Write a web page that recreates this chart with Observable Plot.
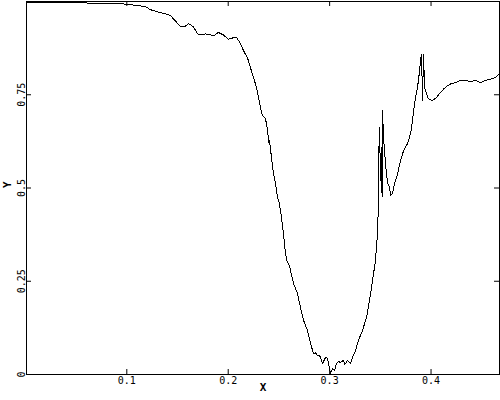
<!DOCTYPE html>
<html>
<head>
<meta charset="utf-8">
<script src="https://cdn.jsdelivr.net/npm/d3@7"></script>
<script src="https://cdn.jsdelivr.net/npm/@observablehq/plot@0.6"></script>
<style>
  html, body { margin: 0; padding: 0; background: #fff; }
</style>
</head>
<body>
<div id="chart"></div>
<script>
const xValues = [
  0.0011, 0.02, 0.0445, 0.06, 0.0741, 0.09, 0.0997, 0.1135, 0.1184, 0.1234,
  0.1332, 0.1382, 0.1431, 0.1480, 0.1530, 0.1579, 0.1609, 0.1658, 0.1697, 0.1727,
  0.1776, 0.1825, 0.1855, 0.1904, 0.1954, 0.2003, 0.2053, 0.2082, 0.2121, 0.2151,
  0.2190, 0.2220, 0.2250, 0.2279, 0.2299, 0.2318, 0.2338, 0.2368, 0.2388, 0.2397,
  0.2402, 0.2407, 0.2427, 0.2447, 0.2466, 0.2486, 0.2499, 0.2516, 0.2545, 0.2565,
  0.2580, 0.2595, 0.2605, 0.2614, 0.2644, 0.2683, 0.2713, 0.2743, 0.2782, 0.2812,
  0.2841, 0.2860, 0.2881, 0.2900, 0.2910, 0.2930, 0.2960, 0.2979, 0.2999, 0.3009,
  0.3028, 0.3048, 0.3068, 0.3090, 0.3107, 0.3137, 0.3150, 0.3157, 0.3176, 0.3206,
  0.3225, 0.3255, 0.3284, 0.3324, 0.3364, 0.3393, 0.3423, 0.3452, 0.3472, 0.3479,
  0.3482, 0.3492, 0.3502, 0.3512, 0.3517, 0.3522, 0.3531, 0.3551, 0.3571, 0.3591,
  0.3600, 0.3620, 0.3640, 0.3670, 0.3699, 0.3729, 0.3768, 0.3798, 0.3817, 0.3837,
  0.3847, 0.3867, 0.3887, 0.3896, 0.3906, 0.3911, 0.3916, 0.3921, 0.3926, 0.3936,
  0.3955, 0.3975, 0.4014, 0.4054, 0.4093, 0.4123, 0.4163, 0.4192, 0.4241, 0.4291,
  0.4340, 0.4389, 0.4438, 0.4487, 0.4537, 0.4586, 0.4636, 0.4675
];
const yValues = [
  0.998, 0.998, 0.997, 0.996, 0.995, 0.994, 0.993, 0.988, 0.986, 0.978,
  0.970, 0.967, 0.962, 0.948, 0.932, 0.934, 0.941, 0.932, 0.913, 0.911,
  0.913, 0.911, 0.908, 0.917, 0.910, 0.899, 0.903, 0.904, 0.887, 0.868,
  0.849, 0.822, 0.796, 0.769, 0.742, 0.715, 0.694, 0.686, 0.654, 0.632,
  0.620, 0.627, 0.581, 0.538, 0.512, 0.474, 0.466, 0.439, 0.378, 0.324,
  0.305, 0.297, 0.290, 0.279, 0.244, 0.217, 0.179, 0.145, 0.118, 0.083,
  0.056, 0.058, 0.051, 0.050, 0.046, 0.029, 0.046, 0.043, 0.016, 0.003,
  0.016, 0.011, 0.029, 0.035, 0.032, 0.038, 0.027, 0.029, 0.038, 0.029,
  0.046, 0.064, 0.091, 0.118, 0.153, 0.198, 0.252, 0.305, 0.378, 0.439,
  0.565, 0.662, 0.520, 0.609, 0.475, 0.707, 0.636, 0.565, 0.512, 0.502,
  0.480, 0.485, 0.512, 0.538, 0.573, 0.600, 0.619, 0.646, 0.680, 0.726,
  0.743, 0.770, 0.814, 0.841, 0.859, 0.800, 0.734, 0.800, 0.859, 0.770,
  0.752, 0.739, 0.734, 0.743, 0.756, 0.765, 0.774, 0.779, 0.783, 0.788,
  0.788, 0.786, 0.788, 0.783, 0.788, 0.792, 0.796, 0.806
];
const xTicks = [0.1, 0.2, 0.3, 0.4];
const xTickLabels = ["0.1", "0.2", "0.3", "0.4"];
const yTicks = [0, 0.25, 0.5, 0.75];
const yTickLabels = ["0", "0.25", "0.5", "0.75"];
const xLabel = ["X"];
const yLabel = ["Y"];

const data = xValues.map((x, i) => ({x, y: yValues[i]}));
const xFmt = d => xTickLabels[xTicks.indexOf(d)];
const yFmt = d => yTickLabels[yTicks.indexOf(d)];

const chart = Plot.plot({
  width: 500,
  height: 400,
  marginLeft: 26,
  marginRight: 1,
  marginTop: 1,
  marginBottom: 26,
  style: {fontFamily: "'DejaVu Sans Mono', monospace", fontSize: "10px", background: "white", color: "black"},
  x: {domain: [0.0011, 0.4675]},
  y: {domain: [0, 1]},
  marks: [
    Plot.frame({stroke: "black", shapeRendering: "crispEdges"}),
    Plot.ruleX(xTicks, {x: d => d, insetTop: 368, stroke: "black"}),
    Plot.ruleX(xTicks, {x: d => d, insetBottom: 368, stroke: "black"}),
    Plot.ruleY(yTicks, {y: d => d, insetRight: 468, stroke: "black"}),
    Plot.ruleY(yTicks, {y: d => d, insetLeft: 468, stroke: "black"}),
    Plot.axisX({ticks: xTicks, tickFormat: xFmt, tickSize: 0, tickPadding: 2, label: null}),
    Plot.axisY({ticks: yTicks, tickFormat: yFmt, tickSize: 0, tickPadding: 2, tickRotate: -90, label: null}),
    Plot.line(data, {x: "x", y: "y", stroke: "black", strokeWidth: 1, shapeRendering: "crispEdges"}),
    Plot.text(xLabel, {text: d => d, frameAnchor: "bottom", dy: 16, fontWeight: "bold", fontSize: 11}),
    Plot.text(yLabel, {text: d => d, frameAnchor: "left", dx: -19, rotate: -90, fontWeight: "bold", fontSize: 11})
  ]
});
document.getElementById("chart").appendChild(chart);
</script>
</body>
</html>
